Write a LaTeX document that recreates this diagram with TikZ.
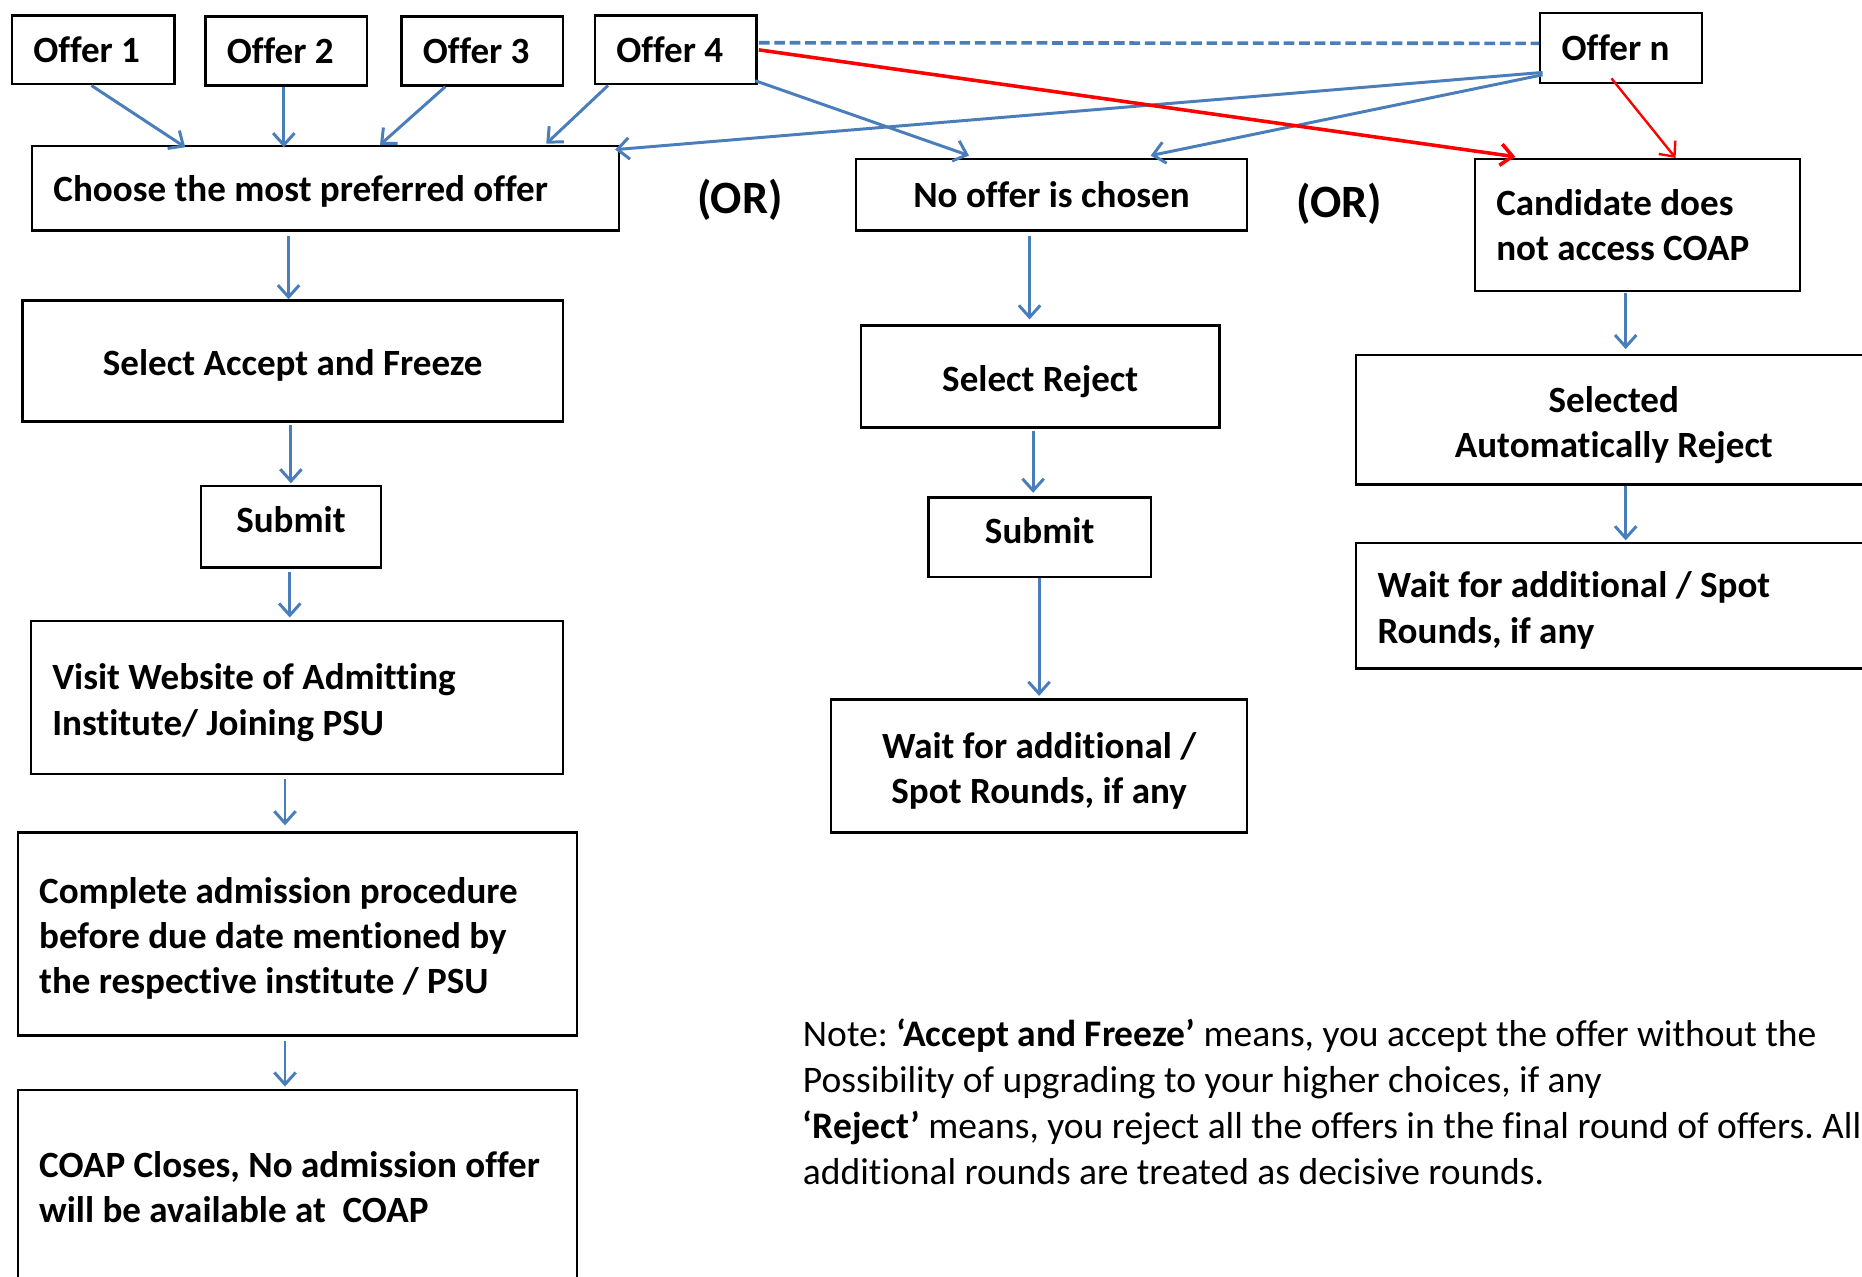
\documentclass[tikz,border=0pt]{standalone}
\usepackage{fontspec}
\setmainfont{Carlito}[Ligatures=NoCommon]
\usetikzlibrary{arrows.meta,calc}
\definecolor{arrblue}{RGB}{74,126,187}
\definecolor{arrred}{RGB}{255,0,0}
\newcommand{\vstr}[1]{\rule{0pt}{32pt}#1\rule[-7pt]{0pt}{7pt}}
\newcommand{\vsub}[1]{\rule{0pt}{22pt}#1\rule[-12pt]{0pt}{12pt}}
\begin{document}
\frenchspacing
\begin{tikzpicture}[x=1pt,y=-1pt,
  box/.style={draw=black, line width=2pt, inner ysep=0pt, font=\fontsize{31.2}{38}\selectfont\bfseries},
  cbox/.style={box, align=flush center, inner xsep=0pt},
  lbox/.style={box, align=flush left, inner xsep=18pt},
  ortext/.style={font=\fontsize{39}{46}\selectfont\bfseries, inner sep=0pt},
  notetext/.style={font=\fontsize{31.6}{38.6}\selectfont, align=flush left, inner sep=0pt},
  barrow/.style={draw=arrblue, line width=2.5pt, -{Straight Barb[length=10pt,width=18pt]}},
  rarrow/.style={draw=arrred, line width=3pt, -{Straight Barb[length=10pt,width=18pt]}},
  dline/.style={draw=arrblue, line width=3pt, dash pattern=on 9pt off 4pt}]
\clip (0,0) rectangle (1568,1075);
\fill[white] (0,0) rectangle (1568,1075);

% offers
\node[lbox, text width=101pt, minimum height=58pt] (o1) at (78.5,42) {Offer 1};
\node[lbox, text width=100pt, minimum height=58pt] (o2) at (241,43) {Offer 2};
\node[lbox, text width=100pt, minimum height=58pt] (o3) at (406,43) {Offer 3};
\node[lbox, text width=100pt, minimum height=58pt] (o4) at (569,42) {Offer 4};
\node[lbox, text width=100pt, minimum height=59pt] (on) at (1365,40.5) {Offer n};

% second row
\node[lbox, text width=458pt, minimum height=71pt] (choose) at (274,158.5) {\rule{0pt}{29pt}Choose the most preferred offer\rule[-7pt]{0pt}{7pt}};
\node[ortext] (or1) at (623,168) {(OR)};
\node[cbox, minimum width=329pt, minimum height=60pt] (nooffer) at (885.5,164) {No offer is chosen};
\node[ortext] (or2) at (1128,172) {(OR)};
\node[lbox, text width=238pt, minimum height=111pt] (cand) at (1379,189.5) {Candidate does\\not access COAP};

% left column
\node[cbox, minimum width=455pt, minimum height=102pt] (saf) at (246.5,304) {\vstr{Select Accept and Freeze}};
\node[cbox, minimum width=152pt, minimum height=69pt] (sub1) at (245,443.5) {\vsub{Submit}};
\node[lbox, text width=412pt, minimum height=129pt] (visit) at (250,587.5) {\vstr{Visit Website of Admitting\\Institute/ Joining PSU}};
\node[lbox, text width=435pt, minimum height=171pt] (complete) at (250.5,786.5) {\vstr{Complete admission procedure\\before due date mentioned by\\the respective institute / PSU}};
\node[lbox, text width=435pt, minimum height=164pt] (coap) at (250.5,1000) {COAP Closes, No admission offer\\will be available at~ COAP};

% middle column
\node[cbox, minimum width=302pt, minimum height=86pt] (srej) at (876,317) {\vstr{Select Reject}};
\node[cbox, minimum width=187pt, minimum height=67pt] (sub2) at (875.5,452.5) {\vsub{Submit}};
\node[cbox, minimum width=350pt, minimum height=112pt] (wait2) at (875,645) {\vstr{Wait for additional /\\Spot Rounds, if any}};

% right column
\node[cbox, minimum width=434pt, minimum height=109pt] (sel) at (1359,353.5) {\vstr{Selected\\Automatically Reject}};
\node[lbox, text width=398pt, minimum height=106pt] (wait3) at (1359,510) {\vstr{Wait for additional / Spot\\Rounds, if any}};

% note
\node[notetext, anchor=west] (note) at (676,928) {Note: \textbf{‘Accept and Freeze’} means, you accept the offer without the\\Possibility of upgrading to your higher choices, if any\\\textbf{‘Reject’} means, you reject all the offers in the final round of offers. All\\additional rounds are treated as decisive rounds.};

% connectors from offers
\draw[dline] ($(o4.east)+(1,-6)$) -- ($(on.west)+(0,-4)$);
\draw[barrow] ($(o1.south west)+(68,0)$) -- ($(choose.north west)+(130,2)$);
\draw[barrow] ($(o2.south west)+(67,0)$) -- ($(choose.north west)+(213,2)$);
\draw[barrow] ($(o3.south west)+(38,0)$) -- ($(choose.north west)+(294,0)$);
\draw[barrow] ($(o4.south west)+(12,0)$) -- ($(choose.north west)+(434,-1)$);
\draw[barrow] ($(o4.south east)+(-2,-4)$) -- ($(nooffer.north west)+(96,-2)$);
\draw[barrow] ($(on.south west)+(3,-10)$) -- ($(choose.north east)+(-4,4)$);
\draw[barrow] ($(on.south west)+(3,-8)$) -- ($(nooffer.north west)+(249,-2)$);
\draw[rarrow] ($(o4.east)+(1,0)$) -- ($(cand.north west)+(35,-1)$);
\draw[rarrow, line width=2pt] ($(on.south west)+(61,-5)$) -- ($(cand.north west)+(170,0)$);

% left column arrows
\draw[barrow] ($(choose.south west)+(217,4)$) -- ($(saf.north west)+(225,0)$);
\draw[barrow] ($(saf.south west)+(227,2)$) -- ($(sub1.north west)+(77,-1)$);
\draw[barrow] ($(sub1.south west)+(76,3)$) -- ($(visit.north west)+(219,-2)$);
\draw[barrow] ($(visit.south west)+(215,3)$) -- ($(complete.north west)+(226,-5)$);
\draw[barrow] ($(complete.south west)+(226,4)$) -- ($(coap.north west)+(226,-2)$);

% middle column arrows
\draw[barrow] ($(nooffer.south west)+(147,4)$) -- ($(srej.north west)+(143,-4)$);
\draw[barrow] ($(srej.south west)+(146,2)$) -- ($(sub2.north west)+(89,-3)$);
\draw[barrow] ($(sub2.south west)+(94,0)$) -- ($(wait2.north west)+(176,-2)$);

% right column arrows
\draw[barrow] ($(cand.south west)+(128,1)$) -- ($(sel.north west)+(228,-4)$);
\draw[barrow] ($(sel.south west)+(228,0)$) -- ($(wait3.north west)+(228,-1)$);
\end{tikzpicture}
\end{document}
